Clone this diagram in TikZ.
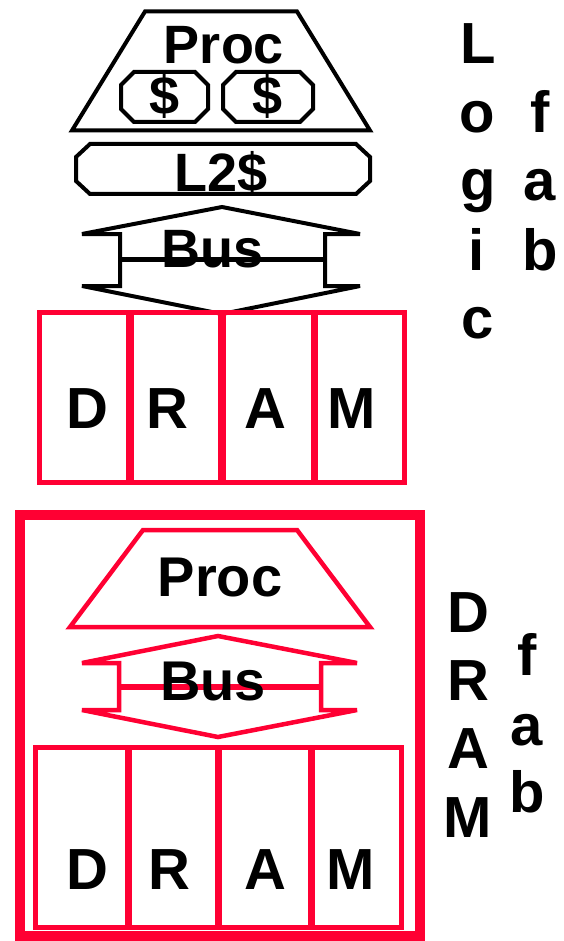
\documentclass[tikz,border=0pt]{standalone}
\usepackage{fontspec}
\setmainfont{Liberation Sans}
\definecolor{dred}{RGB}{255,0,51}
\begin{document}
\begin{tikzpicture}[x=1pt,y=-1pt,
  blk/.style={draw=black,line width=4pt},
  redl/.style={draw=dred,line width=4.5pt},
  cellbox/.style={draw=dred,line width=5pt,rectangle,inner sep=0pt},
  lab/.style={anchor=base,inner sep=0pt,font=\bfseries\fontsize{54}{54}\selectfont},
  labb/.style={anchor=base,inner sep=0pt,font=\bfseries\fontsize{56}{56}\selectfont},
  big/.style={anchor=base,inner sep=0pt,font=\bfseries\fontsize{58}{58}\selectfont}]
\useasboundingbox (0,0) rectangle (564,941);
% ---------- Logic fab ----------
\draw[blk] (145,11.5) -- (297,11.5) -- (370,130.5) -- (72,130.5) -- cycle;
\node[lab] (proc1) at (224,64) {Proc};
\draw[blk] (134,72) -- (195,72) -- (208,85) -- (208,109) -- (195,122) -- (134,122) -- (121,109) -- (121,85) -- cycle;
\draw[blk] (236,72) -- (300,72) -- (313,85) -- (313,109) -- (300,122) -- (236,122) -- (223,109) -- (223,85) -- cycle;
\node[lab] (c1) at (164.5,115) {\$};
\node[lab] (c2) at (268,115) {\$};
\draw[blk] (90,144) -- (356,144) -- (370,157) -- (370,181) -- (356,194) -- (90,194) -- (76,181) -- (76,157) -- cycle;
\node[lab] (l2) at (221,192) {L2\$};
\draw[blk] (82,234) -- (120,234) -- (120,286) -- (82,286) -- (222,314) -- (360,286) -- (325,286) -- (325,234) -- (360,234) -- (222,207) -- cycle;
\node[lab] (bus1) at (213,267) {Bus};
\draw[draw=black,line width=5pt] (120,259) -- (325,259);
% DRAM cells top
\draw[cellbox] (39.5,312.5) rectangle (128.8,482.5);
\draw[cellbox] (131.2,312.5) rectangle (220.5,482.5);
\draw[cellbox] (223,312.5) rectangle (313.3,482.5);
\draw[cellbox] (315.7,312.5) rectangle (404.5,482.5);
\node[big] (d1) at (87,428) {D};
\node[big] (r1) at (167,428) {R};
\node[big] (a1) at (265,428) {A};
\node[big] (m1) at (352,428) {M};
% Logic fab label
\node[big] (lL) at (478,64) {L};
\node[big] (lo) at (477,133) {o};
\node[big] (lg) at (478,201) {g};
\node[big] (li) at (477,270) {i};
\node[big] (lc) at (478,338) {c};
\node[big] (lf) at (540,133) {f};
\node[big] (la) at (540,201) {a};
\node[big] (lb) at (540,270) {b};
% ---------- DRAM fab ----------
\draw[draw=dred,line width=9.5pt] (20,515) rectangle (420,936);
\draw[redl] (143,530) -- (297,530) -- (370,627) -- (70,627) -- cycle;
\node[labb] (proc2) at (220,596) {Proc};
\draw[redl] (82,663) -- (119,663) -- (119,710) -- (82,710) -- (218,737) -- (357,710) -- (321,710) -- (321,663) -- (357,663) -- (218,636) -- cycle;
\draw[draw=dred,line width=5.5pt] (119,687) -- (321,687);
\node[labb] (bus2) at (213,700) {Bus};
\draw[cellbox] (35.5,747.5) rectangle (127.3,927.5);
\draw[cellbox] (129.7,747.5) rectangle (217.3,927.5);
\draw[cellbox] (219.7,747.5) rectangle (310.3,927.5);
\draw[cellbox] (312.7,747.5) rectangle (401.5,927.5);
\node[big] (d2) at (87,889) {D};
\node[big] (r2) at (169,889) {R};
\node[big] (a2) at (265,889) {A};
\node[big] (m2) at (351,889) {M};
\node[big] (dD) at (468,632) {D};
\node[big] (dR) at (468,700) {R};
\node[big] (dA) at (468,768) {A};
\node[big] (dM) at (468,837) {M};
\node[big] (df) at (527,675) {f};
\node[big] (da) at (527,745) {a};
\node[big] (db) at (527,812) {b};
\end{tikzpicture}
\end{document}
